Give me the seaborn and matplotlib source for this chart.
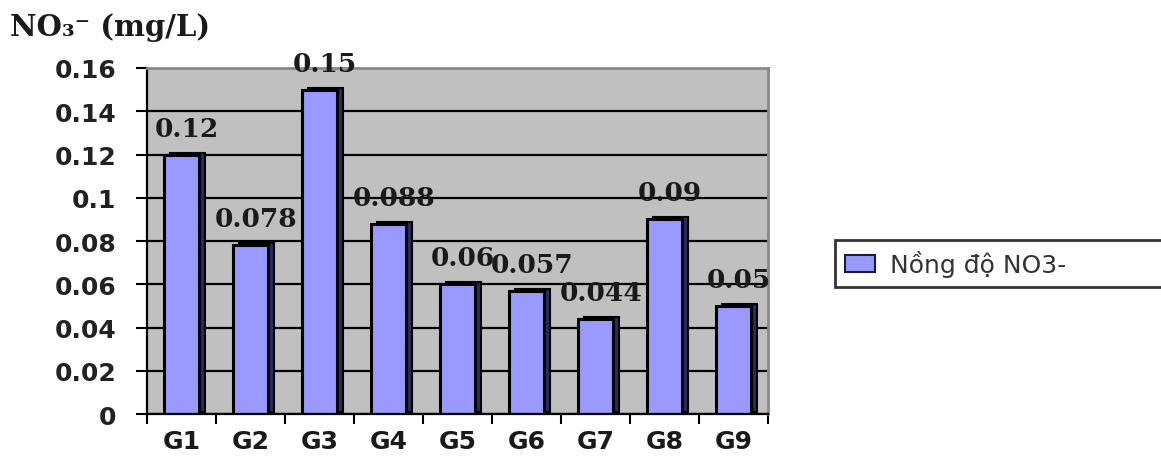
import matplotlib
matplotlib.use("Agg")
import matplotlib.pyplot as plt
import matplotlib.transforms as mtransforms
from matplotlib.patches import Patch
import seaborn as sns
import pandas as pd

# Nitrate concentration per sampling site
sites = ["G1", "G2", "G3", "G4", "G5", "G6", "G7", "G8", "G9"]
no3 = [0.12, 0.078, 0.15, 0.088, 0.06, 0.057, 0.044, 0.09, 0.05]
value_labels = ["0.12", "0.078", "0.15", "0.088", "0.06", "0.057", "0.044", "0.09", "0.05"]
y_ticks = [0, 0.02, 0.04, 0.06, 0.08, 0.10, 0.12, 0.14, 0.16]
y_tick_labels = ["0", "0.02", "0.04", "0.06", "0.08", "0.1", "0.12", "0.14", "0.16"]
legend_label = "Nồng độ NO3-"
axis_title = "NO₃⁻ (mg/L)"

sns.set_theme(style="white")
plt.rcParams["font.family"] = ["DejaVu Sans"]

df = pd.DataFrame({"site": sites, "no3": no3})

fig = plt.figure(figsize=(11.61, 4.6), dpi=100)
ax = fig.add_axes([0.1266, 0.0978, 0.535, 0.7522])
ax.set_facecolor("#C0C0C0")

bar_face = "#9999FF"
bar_side = "#2B2B5C"

# dark side face of the columns, nudged right/up for a 3-D look
sns.barplot(data=df, x="site", y="no3", color=bar_side, saturation=1,
            width=0.5, edgecolor="black", linewidth=1.5, ax=ax)
shift = mtransforms.ScaledTranslation(6 / 100, 2 / 100, fig.dpi_scale_trans)
for p in ax.patches:
    p.set_transform(ax.transData + shift)

# front face
sns.barplot(data=df, x="site", y="no3", color=bar_face, saturation=1,
            width=0.5, edgecolor="black", linewidth=2.2, ax=ax)

ax.set_xlim(-0.5, len(sites) - 0.5)
ax.set_ylim(0, 0.16)

# horizontal gridlines
ax.set_yticks(y_ticks)
ax.set_yticklabels(y_tick_labels)
ax.yaxis.grid(True, color="black", linewidth=1.6)
ax.xaxis.grid(False)
ax.set_axisbelow(True)

# category ticks sit on the boundaries between columns
ax.set_xticks([i - 0.5 for i in range(len(sites) + 1)], minor=True)
ax.tick_params(axis="x", which="minor", length=7, width=1.5, color="black",
               direction="out", bottom=True)
ax.tick_params(axis="x", which="major", length=0, pad=11)
ax.tick_params(axis="y", which="major", length=8, width=1.5, color="black",
               direction="out", left=True, pad=14)

for lab in ax.get_xticklabels():
    lab.set_fontsize(18)
    lab.set_fontweight("bold")
    lab.set_color("#1a1a1a")
for lab in ax.get_yticklabels():
    lab.set_fontsize(18)
    lab.set_fontweight("bold")
    lab.set_color("#222222")

ax.set_xlabel("")
ax.set_ylabel("")

for side in ["left", "bottom"]:
    ax.spines[side].set_color("black")
    ax.spines[side].set_linewidth(1.6)
for side in ["top", "right"]:
    ax.spines[side].set_color("#8a8a8a")
    ax.spines[side].set_linewidth(2)

# value labels above each column
for i, (v, txt) in enumerate(zip(no3, value_labels)):
    ax.annotate(txt, xy=(i, v), xytext=(4, 19), textcoords="offset points",
                ha="center", va="center", fontsize=19, fontweight="bold",
                family=["DejaVu Serif"], color="#1a1a1a")

# y-axis unit title
fig.text(10 / 1161, 1 - 28 / 460, axis_title, fontsize=21, fontweight="bold",
         family=["DejaVu Serif", "DejaVu Sans"], ha="left", va="center",
         color="#1a1a1a")

# legend
handle = Patch(facecolor=bar_face, edgecolor="#1a1a4a", linewidth=1.5)
leg = fig.legend([handle], [legend_label], loc="upper left",
                 bbox_to_anchor=(835 / 1161, 1 - 241 / 460, 0.32, 0.0),
                 mode="expand", fontsize=18, frameon=True, fancybox=False,
                 borderpad=0.4, handlelength=1.2, handleheight=0.7,
                 handletextpad=0.6, borderaxespad=0)
leg.get_frame().set_edgecolor("black")
leg.get_frame().set_linewidth(2)
for t in leg.get_texts():
    t.set_color("#333333")

fig.savefig("out.png", dpi=100)
